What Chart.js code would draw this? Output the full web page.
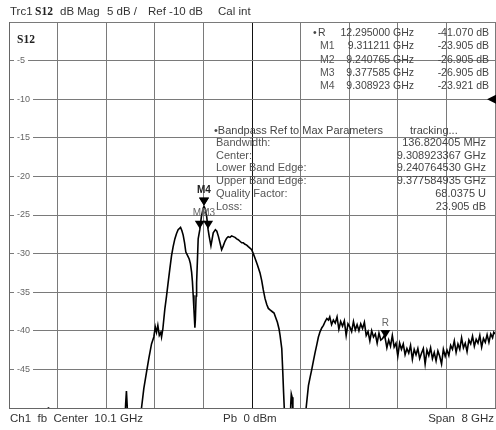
<!DOCTYPE html>
<html>
<head>
<meta charset="utf-8">
<title>Trc1 S12</title>
<script src="https://cdn.jsdelivr.net/npm/chart.js@4"></script>
<style>
  body { margin: 0; background: #fff; }
  canvas { display: block; }
</style>
</head>
<body>
<canvas id="vna" width="496" height="430"></canvas>
<script>
// sweep: center 10.1 GHz, span 8 GHz, 5 dB/div
var xGridGHz = [6.1, 6.9, 7.7, 8.5, 9.3, 10.1, 10.9, 11.7, 12.5, 13.3, 14.1];
var yTickValues = [-5, -10, -15, -20, -25, -30, -35, -40, -45];
var yTickLabels = ['-5', '-10', '-15', '-20', '-25', '-30', '-35', '-40', '-45'];
var refLevel = -10;

// S12 trace (values under -50 dB are off screen)
var freqGHz = [
  6.10, 6.70, 6.75, 6.80, 7.40, 7.99, 8.02, 8.033, 8.045, 8.07,
  8.26, 8.281, 8.319, 8.363, 8.401, 8.446, 8.484, 8.508, 8.528, 8.550,
  8.574, 8.599, 8.611, 8.632, 8.665, 8.693, 8.719, 8.747, 8.775, 8.802,
  8.830, 8.858, 8.884, 8.924, 8.945, 8.967, 8.990, 9.011, 9.036, 9.066,
  9.086, 9.106, 9.119, 9.132, 9.144, 9.160, 9.168, 9.180, 9.188, 9.201,
  9.214, 9.2408, 9.267, 9.297, 9.3089, 9.3112, 9.334, 9.354, 9.3776, 9.396,
  9.424, 9.440, 9.462, 9.497, 9.521, 9.548, 9.576, 9.600, 9.627, 9.655,
  9.683, 9.708, 9.737, 9.765, 9.792, 9.820, 9.848, 9.874, 9.902, 9.930,
  9.957, 9.985, 10.013, 10.039, 10.067, 10.095, 10.121, 10.150, 10.191, 10.232,
  10.260, 10.286, 10.314, 10.343, 10.369, 10.397, 10.430, 10.463, 10.491, 10.518,
  10.546, 10.562, 10.590, 10.607, 10.620, 10.634, 10.661, 10.719, 10.738, 10.747,
  10.760, 10.773, 10.793, 10.958, 10.991, 11.029, 11.057, 11.084, 11.111, 11.139,
  11.167, 11.193, 11.221, 11.250, 11.276, 11.304, 11.332, 11.358,
  11.38, 11.41, 11.44, 11.47, 11.50, 11.53, 11.56, 11.59, 11.62, 11.65,
  11.68, 11.71, 11.74, 11.77, 11.80, 11.83, 11.86, 11.89, 11.92, 11.95,
  11.98, 12.01, 12.04, 12.07, 12.10, 12.13, 12.16, 12.19, 12.22, 12.25,
  12.28, 12.295, 12.32, 12.35, 12.38, 12.41, 12.44, 12.47, 12.50, 12.53,
  12.56, 12.59, 12.62, 12.65, 12.68, 12.71, 12.74, 12.77, 12.80, 12.83,
  12.86, 12.89, 12.92, 12.95, 12.98, 13.01, 13.04, 13.07, 13.10, 13.13,
  13.16, 13.19, 13.22, 13.25, 13.28, 13.31, 13.34, 13.37, 13.40, 13.43,
  13.46, 13.49, 13.52, 13.55, 13.58, 13.61, 13.64, 13.67, 13.70, 13.73,
  13.76, 13.79, 13.82, 13.85, 13.88, 13.91, 13.94, 13.97, 14.00, 14.03,
  14.06, 14.08, 14.10
];
var s12dB = [
  -58, -56, -49.9, -56, -57, -55, -49.5, -47.8, -49.6, -55,
  -52, -50, -47.5, -45.4, -43.6, -41.7, -40.8, -39.5, -40.2, -39.3,
  -40.6, -40.2, -40.8, -39.8, -37.2, -35.5, -33.8, -32, -30.3, -29.1,
  -28.1, -27.4, -26.9, -26.6, -27, -27.6, -28.6, -29.8, -30.2, -30.7,
  -31.3, -32.4, -33.6, -35.4, -37.2, -39.6, -38.5, -35.5, -33.8, -31,
  -28.1, -26.905, -25.2, -24.1, -23.921, -23.905, -24.3, -25.2, -26.905, -27.8,
  -29, -28.3, -27.3, -26.9, -27.1, -27.8, -28.7, -29.5, -29, -28.4,
  -28, -27.8, -27.9, -27.7, -27.8, -27.9, -28.1, -28.2, -28.4, -28.6,
  -28.6, -28.8, -28.9, -29.1, -29.3, -29.5, -30.0, -30.6, -31.5, -32.5,
  -33.5, -34.7, -35.8, -36.6, -37.1, -37.3, -37.5, -37.7, -38.3, -38.9,
  -39.8, -40.6, -42.3, -45.4, -48, -50.5, -56, -55, -49.5, -48.2,
  -48.6, -50.5, -55, -55, -50, -47.1, -46, -45, -43.9, -42.8,
  -41.8, -40.8, -40.1, -39.6, -39.3, -38.8, -38.4, -38.6,
  -38.2, -39.2, -38.6, -39.0, -38.2, -39.8, -38.8, -39.4, -38.7, -40.6,
  -39.1, -39.5, -40.1, -38.8, -39.9, -39.2, -40.0, -39.1, -39.7, -38.9,
  -40.6, -40.1, -41.3, -40.0, -40.8, -40.4, -41.6, -40.3, -41.2, -41.0,
  -40.6, -41.07, -42.2, -41.2, -42.0, -40.6, -42.1, -41.6, -43.3, -41.6,
  -42.4, -41.7, -43.1, -42.3, -42.9, -41.9, -43.7, -42.4, -43.1, -42.3,
  -43.6, -42.9, -42.3, -44.3, -42.5, -43.2, -42.2, -43.6, -42.8, -43.9,
  -42.6, -43.3, -44.3, -42.4, -43.3, -42.5, -43.2, -41.9, -42.4, -41.3,
  -42.8, -41.7, -42.4, -40.9, -42.2, -41.6, -42.7, -41.2, -41.7, -40.7,
  -42.0, -41.1, -41.6, -40.6, -42.1, -41.0, -41.5, -40.5, -41.5, -40.4,
  -40.9, -40.2, -40.4
];

// markers
var markerNames = ['R', 'M1', 'M2', 'M3', 'M4'];
var markerFreq = [12.295, 9.311211, 9.240765, 9.377585, 9.308923];
var markerDb = [-41.070, -23.905, -26.905, -26.905, -23.921];

// bandpass readout
var bpLabels = ['Bandwidth:', 'Center:', 'Lower Band Edge:', 'Upper Band Edge:', 'Quality Factor:', 'Loss:'];
var bpValues = ['136.820405 MHz', '9.308923367 GHz', '9.240764530 GHz', '9.377584935 GHz', '68.0375 U', '23.905 dB'];

var SANS = '"Liberation Sans", Arial, sans-serif';
var SERIF = '"Liberation Serif", "Times New Roman", serif';

var points = freqGHz.map(function (f, i) { return { x: f, y: s12dB[i] }; });

function text(c, s, x, y, font, color, align) {
  c.font = font;
  c.fillStyle = color;
  c.textAlign = align || 'left';
  c.textBaseline = 'middle';
  c.fillText(s, x, y);
}

var whiteBg = {
  id: 'whiteBg',
  beforeDraw: function (chart) {
    var c = chart.ctx;
    c.save();
    c.fillStyle = '#fff';
    c.fillRect(0, 0, chart.width, chart.height);
    c.restore();
  }
};

var screenText = {
  id: 'screenText',
  afterDraw: function (chart) {
    var c = chart.ctx, xs = chart.scales.x, ys = chart.scales.y, a = chart.chartArea;
    c.save();

    // y labels sit inside the grid, on a white patch
    c.font = '9px ' + SANS;
    yTickValues.forEach(function (v, i) {
      var py = ys.getPixelForValue(v);
      var w = c.measureText(yTickLabels[i]).width;
      c.fillStyle = '#fff';
      c.fillRect(a.left + 5, py - 1, w + 6, 3);
      text(c, yTickLabels[i], a.left + 8, py, '9px ' + SANS, '#666');
    });

    // header
    text(c, 'Trc1', 10, 12, '11.5px ' + SANS, '#333');
    text(c, 'S12', 35, 12, 'bold 11.5px ' + SERIF, '#222');
    text(c, 'dB Mag', 60, 12, '11.5px ' + SANS, '#333');
    text(c, '5 dB /', 107, 12, '11.5px ' + SANS, '#333');
    text(c, 'Ref -10 dB', 148, 12, '11.5px ' + SANS, '#333');
    text(c, 'Cal int', 218, 12, '11.5px ' + SANS, '#333');
    text(c, 'S12', 17, 40, 'bold 11.5px ' + SERIF, '#222');

    // footer
    text(c, 'Ch1  fb  Center  10.1 GHz', 10, 419, '11.5px ' + SANS, '#333');
    text(c, 'Pb  0 dBm', 223, 419, '11.5px ' + SANS, '#333');
    text(c, 'Span  8 GHz', 494, 419, '11.5px ' + SANS, '#333', 'right');

    // marker table
    markerNames.forEach(function (m, i) {
      var ry = 33.3 + i * 13.3;
      var f = '10.5px ' + SANS;
      if (m === 'R') {
        text(c, '\u2022', 313, ry, f, '#444');
        text(c, m, 318, ry, f, '#444');
      } else {
        text(c, m, 320, ry, f, '#555');
      }
      text(c, markerFreq[i].toFixed(6) + ' GHz', 414, ry, f, '#444', 'right');
      text(c, markerDb[i].toFixed(3) + ' dB', 489, ry, f, '#444', 'right');
    });

    // bandpass block
    text(c, '\u2022Bandpass Ref to Max Parameters', 214, 130.5, '11px ' + SANS, '#444');
    text(c, 'tracking...', 410, 130.5, '11px ' + SANS, '#444');
    bpLabels.forEach(function (l, i) {
      var ry = 143 + i * 12.7;
      text(c, l, 216, ry, '11px ' + SANS, '#555');
      text(c, bpValues[i], 486, ry, '11px ' + SANS, '#444', 'right');
    });

    // reference level arrow on the right edge
    var ry = ys.getPixelForValue(refLevel);
    c.fillStyle = '#000';
    c.beginPath();
    c.moveTo(a.right - 8, ry);
    c.lineTo(a.right + 1, ry - 4.5);
    c.lineTo(a.right + 1, ry + 4.5);
    c.closePath();
    c.fill();

    // markers: tip on the trace, label above
    markerNames.forEach(function (m, i) {
      var px = xs.getPixelForValue(markerFreq[i]);
      var py = ys.getPixelForValue(markerDb[i]) - 1;
      c.fillStyle = '#000';
      c.beginPath();
      c.moveTo(px, py);
      c.lineTo(px - 5, py - 8);
      c.lineTo(px + 5, py - 8);
      c.closePath();
      c.fill();
      if (m === 'M1') return; // hidden under M4
      var col = m === 'M4' ? '#222' : '#666';
      var f = (m === 'M4' ? 'bold ' : '') + '10px ' + SANS;
      text(c, m, px, py - 15, f, col, 'center');
    });

    c.restore();
  }
};

var chart = new Chart(document.getElementById('vna'), {
  type: 'scatter',
  data: {
    datasets: [{
      data: points,
      showLine: true,
      borderColor: '#000',
      borderWidth: 1.6,
      pointRadius: 0,
      tension: 0,
      clip: 0
    }]
  },
  options: {
    responsive: false,
    animation: false,
    devicePixelRatio: 1,
    layout: { padding: { left: 9, top: 22, right: 1, bottom: 22 } },
    plugins: { legend: { display: false }, tooltip: { enabled: false } },
    scales: {
      x: {
        type: 'linear',
        min: 6.1,
        max: 14.1,
        afterBuildTicks: function (scale) {
          scale.ticks = xGridGHz.map(function (v) { return { value: v }; });
        },
        ticks: { display: false },
        grid: {
          drawTicks: false,
          lineWidth: 1,
          color: function (ctx) {
            return ctx.tick && Math.abs(ctx.tick.value - 10.1) < 1e-6 ? '#111' : '#7a7a7a';
          }
        },
        border: { color: '#666' }
      },
      y: {
        min: -50,
        max: 0,
        ticks: { display: false, stepSize: 5 },
        grid: { drawTicks: false, lineWidth: 1, color: '#7a7a7a' },
        border: { color: '#666' }
      }
    }
  },
  plugins: [whiteBg, screenText]
});
</script>
</body>
</html>
